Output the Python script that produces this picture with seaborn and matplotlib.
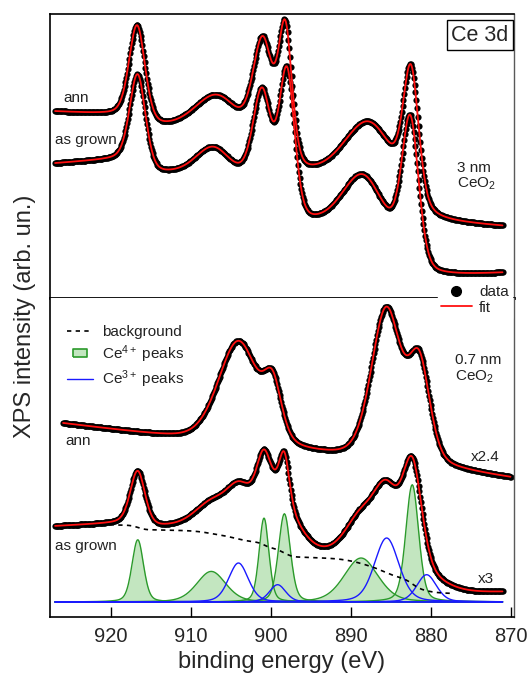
"""Ce 3d XPS spectra of 3 nm and 0.7 nm CeO2 (as grown / annealed).
Run with: python plot.py
"""

import numpy as np
import matplotlib
matplotlib.use("Agg")
import matplotlib.pyplot as plt
import seaborn as sns
from matplotlib.lines import Line2D

# --- peak parameters (binding energy eV, height, FWHM eV) ---
# background: (low-BE level, high-BE level, linear slope)

# 3 nm CeO2, annealed
top_ann_bg = (70.0, 161.1, 0.429)
top_ann_center = [916.72, 906.64, 900.97, 898.17, 887.56, 882.44]
top_ann_height = [95.1, 40.4, 105.1, 132.1, 68.7, 127.3]
top_ann_fwhm = [2.36, 6.60, 2.89, 2.02, 7.42, 2.28]

# 3 nm CeO2, as grown
top_grown_bg = (25.5, 166.7, -0.559)
top_grown_center = [916.64, 907.14, 901.07, 897.95, 888.33, 882.51]
top_grown_height = [92.0, 28.6, 96.5, 138.0, 60.2, 140.2]
top_grown_fwhm = [2.35, 5.00, 2.65, 2.26, 6.00, 2.49]

# 0.7 nm CeO2, annealed (x2.4)
low_ann_bg = (137.5, 133.8, 1.044)
low_ann_center = [904.04, 899.74, 885.54, 881.40]
low_ann_height = [103.1, 50.3, 151.9, 96.0]
low_ann_fwhm = [6.00, 2.59, 4.44, 3.15]

# 0.7 nm CeO2, as grown (x3): envelope of the measured curve
low_grown_bg = (24.6, 112.9, -0.387)
low_grown_center = [916.65, 907.4, 900.9, 898.3, 888.8, 882.25, 904.0, 899.2, 885.5, 880.6]
low_grown_height = [53.8, 22.6, 42.3, 45.7, 37.0, 103.5, 35.6, 53.0, 72.1, 11.5]
low_grown_fwhm = [2.17, 4.88, 2.04, 1.47, 4.49, 2.84, 3.85, 5.65, 3.92, 5.96]

# components drawn under the as-grown 0.7 nm spectrum
ce4_center = [916.65, 907.45, 900.85, 898.3, 888.7, 882.3]
ce4_height = [62.3, 30.6, 84.0, 88.3, 44.0, 117.3]
ce4_fwhm = [1.7, 4.3, 1.45, 1.75, 5.0, 1.9]
ce3_center = [904.05, 899.15, 885.5, 880.5]
ce3_height = [39.0, 17.3, 64.0, 27.3]
ce3_fwhm = [2.9, 2.4, 3.6, 2.9]
comp_base = 15.0
comp_bg = (23.0, 92.3, 0.0)

# measured ranges (eV)
top_range = (871.0, 927.0)
low_ann_range = (870.0, 926.0)
low_grown_range = (871.0, 927.0)
bg_line_range = (877.6, 919.7)
energy_ticks = [920, 910, 900, 890, 880, 870]

ETA = 0.3  # Lorentzian fraction of the pseudo-Voigt line shape
energy = np.round(np.arange(869.0, 928.0, 0.1), 2)


def pseudo_voigt(c, h, w):
    x = (energy - c) / w
    return h * ((1 - ETA) * np.exp(-4 * np.log(2) * x**2) + ETA / (1 + 4 * x**2))


def spectrum(bg, centers, heights, widths):
    peaks = sum(pseudo_voigt(c, h, w) for c, h, w in zip(centers, heights, widths))
    low, high, slope = bg
    shirley = low + (high - low) * np.cumsum(peaks) / peaks.sum() + slope * (energy - 869)
    return shirley + peaks, shirley


def in_range(r):
    return (energy >= r[0] - 1e-6) & (energy <= r[1] + 1e-6)


sns.set_theme(style="white")
plt.rcParams["font.family"] = ["Liberation Sans", "DejaVu Sans"]
plt.rcParams["mathtext.fontset"] = "custom"
plt.rcParams["mathtext.rm"] = "Liberation Sans"
plt.rcParams["mathtext.it"] = "Liberation Sans:italic"

W, H = 527, 677
fig = plt.figure(figsize=(W / 100, H / 100), dpi=100)


def fx(px):
    return px / W


def fy(py):
    return 1 - py / H


left, right = 50, 514
ax_top = fig.add_axes([fx(left), fy(298), fx(right - left), (298 - 14) / H])
ax_low = fig.add_axes([fx(left), fy(617), fx(right - left), (617 - 298) / H])

RED = "#ff1010"
GREEN = "#2b9a2b"
GREEN_FILL = "#c3e6c0"
BLUE = "#1a1aff"
DOT = dict(s=20, color="black", linewidth=0, zorder=2)


def draw(ax, y, mask):
    sns.scatterplot(x=energy[mask], y=y[mask], ax=ax, **DOT)
    sns.lineplot(x=energy[mask], y=y[mask], ax=ax, color=RED, lw=1.3,
                 sort=False, estimator=None, zorder=3)


# upper panel: 3 nm
mask = in_range(top_range)
draw(ax_top, spectrum(top_ann_bg, top_ann_center, top_ann_height, top_ann_fwhm)[0], mask)
draw(ax_top, spectrum(top_grown_bg, top_grown_center, top_grown_height, top_grown_fwhm)[0], mask)

# lower panel: 0.7 nm
draw(ax_low, spectrum(low_ann_bg, low_ann_center, low_ann_height, low_ann_fwhm)[0],
     in_range(low_ann_range))
draw(ax_low, spectrum(low_grown_bg, low_grown_center, low_grown_height, low_grown_fwhm)[0],
     in_range(low_grown_range))

# Shirley background of the components (dashed)
_, shirley = spectrum(comp_bg, ce4_center + ce3_center, ce4_height + ce3_height,
                      ce4_fwhm + ce3_fwhm)
bmask = in_range(bg_line_range)
sns.lineplot(x=energy[bmask], y=shirley[bmask], ax=ax_low, color="black", lw=1.2,
             linestyle=(0, (2.6, 2.6)), sort=False, estimator=None, zorder=2)

cmask = in_range(low_grown_range)
ec = energy[cmask]
for c, h, w in zip(ce4_center, ce4_height, ce4_fwhm):
    comp = comp_base + pseudo_voigt(c, h, w)[cmask]
    ax_low.fill_between(ec, comp_base, comp, color=GREEN_FILL, lw=0, zorder=1)
for c, h, w in zip(ce4_center, ce4_height, ce4_fwhm):
    comp = comp_base + pseudo_voigt(c, h, w)[cmask]
    sns.lineplot(x=ec, y=comp, ax=ax_low, color=GREEN, lw=1.0, sort=False,
                 estimator=None, zorder=1.5)
for c, h, w in zip(ce3_center, ce3_height, ce3_fwhm):
    comp = comp_base + pseudo_voigt(c, h, w)[cmask]
    sns.lineplot(x=ec, y=comp, ax=ax_low, color=BLUE, lw=1.0, sort=False,
                 estimator=None, zorder=1.6)

# axes styling
xlim = (920 + (111 - left) / 7.99, 920 - (right - 111) / 7.99)
for ax, ylim in [(ax_top, (0, 284)), (ax_low, (0, 319))]:
    ax.set_xlim(*xlim)
    ax.set_ylim(*ylim)
    ax.set_yticks([])
    ax.set_xlabel("")
    ax.set_ylabel("")
    for side in ["left", "top", "bottom"]:
        ax.spines[side].set_color("black")
        ax.spines[side].set_linewidth(1.2)
    ax.spines["right"].set_color("0.35")
    ax.spines["right"].set_linewidth(1.0)

ax_top.set_xticks([])
ax_top.spines["bottom"].set_linewidth(2.0)
ax_low.spines["top"].set_visible(False)
ax_low.set_xticks(energy_ticks)
ax_low.tick_params(axis="x", direction="in", length=7.5, width=1.0, color="black",
                   labelsize=14.5, pad=7, bottom=True)
ax_low.set_xlabel("binding energy (eV)", fontsize=17, labelpad=4)
fig.text(fx(25), fy(316), "XPS intensity (arb. un.)", rotation=90, fontsize=17,
         ha="center", va="center")

# text labels
txt = dict(fontsize=11, color="#222222")
fig.text(fx(63), fy(98), "ann", va="center", **txt)
fig.text(fx(55), fy(140), "as grown", va="center", **txt)
fig.text(fx(457), fy(168), "3 nm", va="center", **txt)
fig.text(fx(457), fy(184), "CeO$_\\mathregular{2}$", va="center", **txt)
fig.text(fx(65), fy(441), "ann", va="center", **txt)
fig.text(fx(55), fy(546), "as grown", va="center", **txt)
fig.text(fx(500), fy(457), "x2.4", va="center", ha="right", **txt)
fig.text(fx(494), fy(579), "x3", va="center", ha="right", **txt)
fig.text(fx(455), fy(360), "0.7 nm", va="center", **txt)
fig.text(fx(455), fy(377), "CeO$_\\mathregular{2}$", va="center", **txt)
ax_top.text(0.9265, 0.925, "Ce 3d", transform=ax_top.transAxes, fontsize=15.5,
            ha="center", va="center",
            bbox=dict(boxstyle="square,pad=0.2", fc="white", ec="black", lw=1.0))

# legends
rect = [(-1.6, -1), (1.6, -1), (1.6, 1), (-1.6, 1), (-1.6, -1)]
comp_handles = [
    Line2D([], [], color="black", lw=1.2, linestyle=(0, (2.6, 2.6))),
    Line2D([], [], lw=0, marker=rect, ms=9.4, markerfacecolor=GREEN_FILL,
           markeredgecolor=GREEN, markeredgewidth=1.2),
    Line2D([], [], color=BLUE, lw=1.0),
]
ax_low.legend(comp_handles, ["background", "Ce$^{\\mathregular{4+}}$ peaks",
                             "Ce$^{\\mathregular{3+}}$ peaks"],
              loc="upper left", bbox_to_anchor=((53 - left) / (right - left), 0.958),
              frameon=False, fontsize=11, handlelength=1.7, handletextpad=0.6,
              labelspacing=0.25, labelcolor="#222222")

data_handles = [
    Line2D([], [], color="black", marker="o", ms=7, lw=0),
    Line2D([], [], color=RED, lw=1.3),
]
fig.legend(data_handles, ["data", "fit"], loc="center",
           bbox_to_anchor=(fx(475), fy(300)), frameon=True, facecolor="white",
           edgecolor="white", framealpha=1, fancybox=False, fontsize=11,
           handlelength=2.0, handletextpad=0.5, labelspacing=0.1, borderpad=0.2,
           labelcolor="#222222")

fig.savefig("out.png", dpi=100)
